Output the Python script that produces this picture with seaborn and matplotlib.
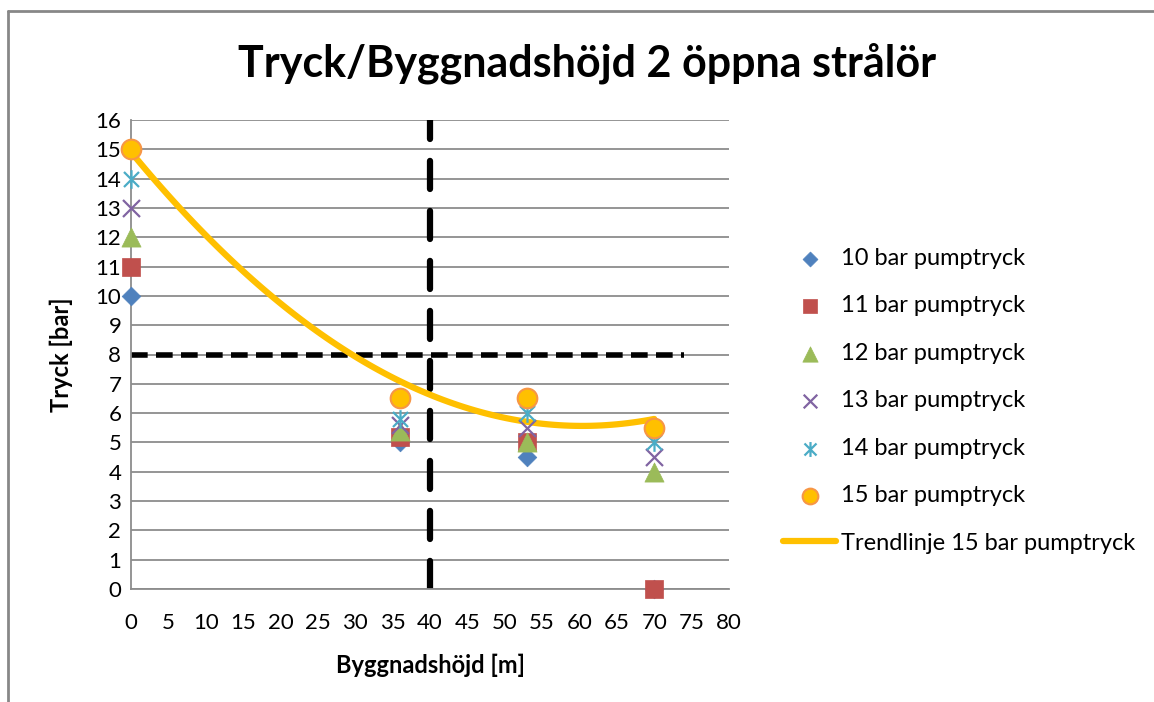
# Tryck/Byggnadshöjd chart, Excel-style scatter with quadratic trendline
import numpy as np
import pandas as pd
import matplotlib
matplotlib.use("Agg")
import matplotlib.pyplot as plt
from matplotlib.path import Path
from matplotlib.lines import Line2D
import seaborn as sns

# data
heights = [0, 36, 53, 70]
p10 = [10, 5.0, 4.5, 0]
p11 = [11, 5.2, 5.0, 0]
p12 = [12, 5.4, 5.0, 4.0]
p13 = [13, 5.6, 5.5, 4.5]
p14 = [14, 5.8, 6.0, 5.0]
p15 = [15, 6.5, 6.5, 5.5]
series_names = ["10 bar pumptryck", "11 bar pumptryck", "12 bar pumptryck",
                "13 bar pumptryck", "14 bar pumptryck", "15 bar pumptryck"]
trend_name = "Trendlinje 15 bar pumptryck"
limit_pressure = 8
limit_height = 40
x_ticks = list(range(0, 85, 5))
y_ticks = list(range(0, 17))

sns.set_theme(style="white")
plt.rcParams['font.family'] = ['Lato', 'DejaVu Sans']
plt.rcParams['text.color'] = 'black'
plt.rcParams['axes.labelcolor'] = 'black'

fig = plt.figure(figsize=(11.54, 7.02), dpi=100)
ax = fig.add_axes([131 / 1154, 1 - 589 / 702, (729 - 131) / 1154, (589 - 120) / 702])

# asterisk marker: x plus vertical bar
star = Path([(-0.5, -0.5), (0.5, 0.5), (-0.5, 0.5), (0.5, -0.5), (0, -0.62), (0, 0.62)],
            [Path.MOVETO, Path.LINETO, Path.MOVETO, Path.LINETO, Path.MOVETO, Path.LINETO])

styles = [
    dict(marker="D", s=90, color="#4F81BD", edgecolor="#4F81BD", linewidth=0.5),
    dict(marker="s", s=165, color="#C0504D", edgecolor="#C0504D", linewidth=0.5),
    dict(marker="^", s=190, color="#9BBB59", edgecolor="#9BBB59", linewidth=0.5),
    dict(marker="x", s=150, color="#8064A2", linewidth=1.6),
    dict(marker=star, s=180, color="#4BACC6", edgecolor="#4BACC6", linewidth=1.6),
    dict(marker="o", s=200, color="#FFC000", edgecolor="#F79646", linewidth=1.5),
]

df15 = pd.DataFrame({"h": heights, "p": p15})
sns.regplot(data=df15, x="h", y="p", order=2, ci=None, scatter=False, ax=ax,
            line_kws=dict(color="#FFC000", lw=4.5, zorder=3, solid_capstyle="round"))

for name, vals, st in zip(series_names, [p10, p11, p12, p13, p14, p15], styles):
    d = pd.DataFrame({"h": heights, "p": vals})
    sns.scatterplot(data=d, x="h", y="p", ax=ax, label=name, zorder=4,
                    clip_on=False, **st)

# reference lines
ax.axhline(limit_pressure, xmin=0, xmax=74 / 80, color="black", lw=4,
           ls=(0, (3.0, 1.5)), zorder=2)
ax.axvline(limit_height, color="black", lw=4.5, ls=(0, (4.5, 3.5)),
           dash_capstyle="round", zorder=2)

ax.set_xlim(0, 80)
ax.set_ylim(0, 16)
ax.set_xticks(x_ticks)
ax.set_yticks(y_ticks)
ax.tick_params(axis="both", labelsize=16, length=0, colors="black")
ax.tick_params(axis="x", pad=17)
ax.tick_params(axis="y", pad=7)
ax.yaxis.grid(True, color="#8C8C8C", lw=1.3)
ax.set_axisbelow(True)
for side in ["top", "right"]:
    ax.spines[side].set_visible(False)
for side in ["left", "bottom"]:
    ax.spines[side].set_color("#8C8C8C")
    ax.spines[side].set_linewidth(1.3)
ax.set_xlabel("Byggnadshöjd [m]", fontsize=17, fontweight="bold", labelpad=15)
ax.set_ylabel("Tryck [bar]", fontsize=17, fontweight="bold", labelpad=16)

fig.text(0.509, 0.91, "Tryck/Byggnadshöjd 2 öppna strålör", fontsize=31,
         fontweight="bold", ha="center", va="center")

# legend: series first, trendline last
handles, labels = ax.get_legend_handles_labels()
order = [labels.index(n) for n in series_names]
h = [handles[i] for i in order] + [Line2D([], [], color="#FFC000", lw=4.5)]
l = series_names + [trend_name]
ax.legend(h, l, loc="center left", bbox_to_anchor=(762 / 1154, 0.429),
          bbox_transform=fig.transFigure, frameon=False, fontsize=17,
          labelspacing=1.12, handlelength=2.25, handletextpad=0.2,
          markerscale=0.8)

# chart-area border (partly cropped)
fig.add_artist(Line2D([8 / 1154, 8 / 1154], [0, 1 - 11 / 702], color="#878787", lw=2))
fig.add_artist(Line2D([8 / 1154, 1], [1 - 11 / 702, 1 - 11 / 702], color="#878787", lw=2))

fig.savefig("out.png", dpi=100, facecolor="white")
